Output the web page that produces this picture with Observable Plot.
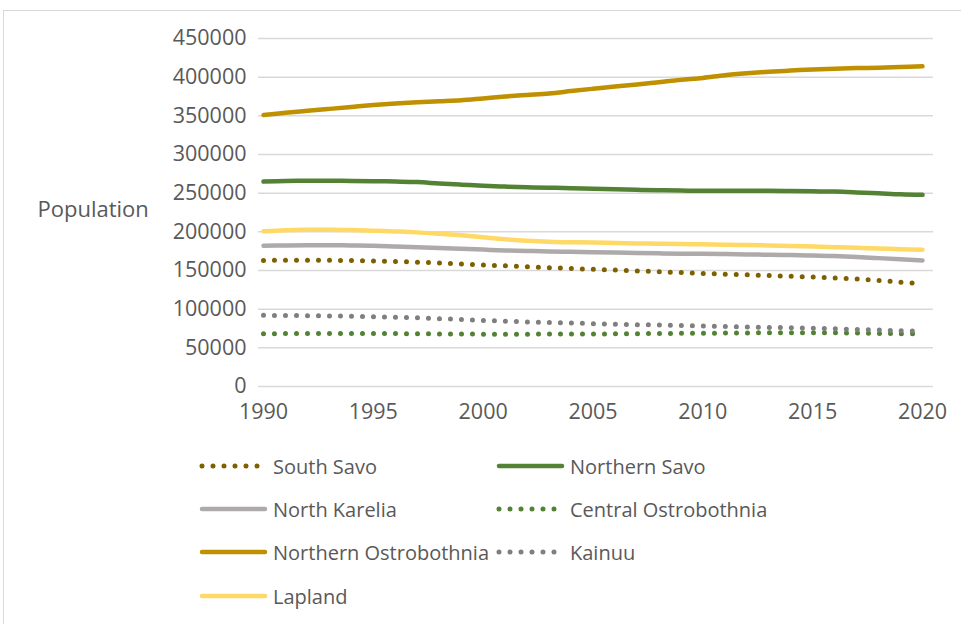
<!DOCTYPE html>
<html>
<head>
<meta charset="utf-8">
<script src="https://cdn.jsdelivr.net/npm/d3@7"></script>
<script src="https://cdn.jsdelivr.net/npm/@observablehq/plot@0.6"></script>
<style>
  html, body { margin: 0; padding: 0; background: #fff; }
  body { width: 961px; height: 624px; position: relative; overflow: hidden; font-family: "Open Sans", sans-serif; color: #595959; }
  #frame { position: absolute; left: 3px; top: 10px; width: 2000px; height: 2000px; border-top: 1.5px solid #d9d9d9; border-left: 1.5px solid #d9d9d9; box-sizing: border-box; pointer-events: none; }
  #chart { position: absolute; left: 0; top: 0; }
  #legend { position: absolute; left: 0; top: 444px; width: 961px; }
  .row { position: absolute; height: 30px; display: flex; align-items: center; font-size: 20px; white-space: nowrap; }
  .row svg { display: block; }
</style>
</head>
<body>
<div id="frame"></div>
<div id="chart"></div>
<div id="legend"></div>
<script>
const years = d3.range(1990, 2021);

const seriesNames = ["South Savo", "Northern Savo", "North Karelia", "Central Ostrobothnia", "Northern Ostrobothnia", "Kainuu", "Lapland"];
const seriesColors = ["#7f6000", "#548235", "#aeaaaa", "#548235", "#bf9000", "#7f7f7f", "#ffd966"];
const seriesDotted = [true, false, false, true, false, true, false];

const southSavo = [163000,163200,163300,163200,162800,162300,161600,160800,159700,158500,157200,156000,154800,153700,152600,151600,150600,149500,148400,147300,146200,145300,144400,143500,142600,141500,140300,139000,137200,135000,132800];
const northernSavo = [265000,265700,266000,266000,265800,265500,265000,264300,262500,261000,259500,258500,257500,257000,256500,255800,255000,254300,253800,253400,253000,253000,253000,253000,252800,252400,252000,251000,249800,248500,247800];
const northKarelia = [181900,182400,182700,182700,182400,182000,181000,180000,179000,178000,177000,176000,175300,174700,174200,173700,173200,172700,172200,171800,171500,171200,170800,170400,170000,169400,168600,167500,166000,164500,163000];
const centralOstrobothnia = [68300,68400,68500,68600,68600,68500,68400,68200,68000,67800,67700,67700,67700,67800,67900,68000,68100,68300,68500,68700,68900,69100,69300,69400,69500,69500,69400,69100,68700,68300,68000];
const northernOstrobothnia = [351000,354000,356500,359000,361500,364000,366000,367500,368700,370000,372500,375000,377000,379000,382000,385000,388000,390500,393500,396500,399000,402500,405000,407000,408500,410000,411000,411800,412200,413000,414000];
const kainuu = [92000,91800,91500,91200,90800,90300,89600,88800,87700,86600,85400,84400,83500,82700,82000,81300,80600,80000,79400,78800,78200,77600,77000,76400,75900,75300,74600,73800,73000,72200,71500];
const lapland = [200800,202000,202700,202800,202300,201500,200500,199300,197500,195500,193000,190500,188500,187200,186500,186200,185500,185000,184600,184200,183800,183400,183000,182400,181700,181000,180200,179300,178500,177600,176800];

const seriesValues = [southSavo, northernSavo, northKarelia, centralOstrobothnia, northernOstrobothnia, kainuu, lapland];

const yTicks = d3.range(0, 450001, 50000);
const xTicks = [1990, 1995, 2000, 2005, 2010, 2015, 2020];
const yLabel = "Population";

const lineMarks = seriesNames.map((name, i) => {
  const data = years.map((yr, j) => ({year: yr, value: seriesValues[i][j], series: name}));
  return Plot.line(data, {
    x: "year", y: "value",
    stroke: seriesColors[i],
    strokeWidth: seriesDotted[i] ? 5 : 4.5,
    strokeDasharray: seriesDotted[i] ? "0 11" : null,
    strokeLinecap: "round",
    strokeLinejoin: "round",
    curve: "catmull-rom"
  });
});

const chart = Plot.plot({
  width: 961,
  height: 440,
  marginLeft: 258,
  marginRight: 28,
  marginTop: 38,
  marginBottom: 54,
  style: {fontFamily: "'Open Sans', sans-serif", color: "#595959", background: "transparent"},
  x: {domain: [1990, 2020], insetLeft: 5, insetRight: 11},
  y: {domain: [0, 450000]},
  marks: [
    Plot.ruleY(yTicks, {stroke: "#d9d9d9", strokeWidth: 1.5}),
    Plot.axisY({ticks: yTicks, tickSize: 0, tickPadding: 12, tickFormat: d => String(d), fontSize: 21.5, label: null}),
    Plot.axisX({ticks: xTicks, tickSize: 0, tickPadding: 17, tickFormat: d => String(d), fontSize: 21.5, label: null}),
    Plot.text([yLabel], {frameAnchor: "left", dx: -221, dy: -3, textAnchor: "start", fontSize: 22, fill: "#595959"}),
    ...lineMarks
  ]
});
document.getElementById("chart").appendChild(chart);

// Legend
const legend = document.getElementById("legend");
const legendPos = [
  {col: 0, row: 0}, {col: 1, row: 0},
  {col: 0, row: 1}, {col: 1, row: 1},
  {col: 0, row: 2}, {col: 1, row: 2},
  {col: 0, row: 3}
];
const colX = [198, 495];
const rowY = [466, 509, 552, 596];
seriesNames.forEach((name, i) => {
  const p = legendPos[i];
  const div = document.createElement("div");
  div.className = "row";
  div.style.left = colX[p.col] + "px";
  div.style.top = (rowY[p.row] - 444 - 15) + "px";
  const ns = "http://www.w3.org/2000/svg";
  const svg = document.createElementNS(ns, "svg");
  svg.setAttribute("width", 72);
  svg.setAttribute("height", 30);
  const ln = document.createElementNS(ns, "line");
  ln.setAttribute("x1", 4); ln.setAttribute("x2", 67);
  ln.setAttribute("y1", 15); ln.setAttribute("y2", 15);
  ln.setAttribute("stroke", seriesColors[i]);
  ln.setAttribute("stroke-width", seriesDotted[i] ? 5 : 4.5);
  ln.setAttribute("stroke-linecap", "round");
  if (seriesDotted[i]) ln.setAttribute("stroke-dasharray", "0 11");
  svg.appendChild(ln);
  div.appendChild(svg);
  const span = document.createElement("span");
  span.textContent = name;
  span.style.marginLeft = "3px";
  div.appendChild(span);
  legend.appendChild(div);
});
</script>
</body>
</html>
